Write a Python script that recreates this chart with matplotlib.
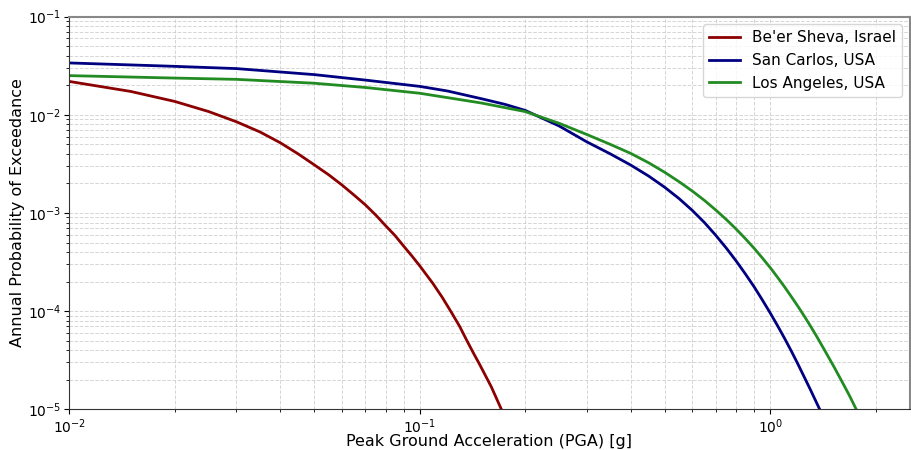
import matplotlib
matplotlib.use('Agg')
import matplotlib.pyplot as plt

# hazard curves (PGA in g, annual probability of exceedance)
pga_beersheva = [0.01, 0.015, 0.02, 0.025, 0.03, 0.035, 0.04, 0.045, 0.05, 0.055,
                 0.06, 0.065, 0.07, 0.075, 0.08, 0.085, 0.09, 0.095, 0.1, 0.109,
                 0.116, 0.123, 0.13, 0.136, 0.142, 0.148, 0.16, 0.171, 0.18]
apoe_beersheva = [0.0219, 0.0173, 0.0137, 0.0108, 0.0085, 0.0067, 0.0052, 0.0040,
                  0.0031, 0.00245, 0.00193, 0.00152, 0.00121, 9.5e-4, 7.4e-4, 5.9e-4,
                  4.6e-4, 3.65e-4, 2.9e-4, 1.92e-4, 1.38e-4, 9.8e-5, 7.0e-5, 5.1e-5,
                  3.8e-5, 2.9e-5, 1.7e-5, 1.0e-5, 6.8e-6]

pga_sancarlos = [0.01, 0.02, 0.03, 0.05, 0.07, 0.1, 0.12, 0.15, 0.175, 0.2, 0.25,
                 0.3, 0.35, 0.4, 0.45, 0.5, 0.55, 0.6, 0.65, 0.7, 0.75, 0.8, 0.85,
                 0.9, 0.95, 1.0, 1.05, 1.1, 1.15, 1.2, 1.3, 1.39, 1.45]
apoe_sancarlos = [0.0338, 0.0312, 0.0296, 0.0257, 0.0226, 0.0195, 0.0175, 0.0146,
                  0.0128, 0.0111, 0.0077, 0.0053, 0.0040, 0.00308, 0.00238, 0.00183,
                  0.0014, 0.00106, 7.96e-4, 5.91e-4, 4.38e-4, 3.24e-4, 2.39e-4,
                  1.77e-4, 1.30e-4, 9.6e-5, 7.1e-5, 5.26e-5, 3.9e-5, 2.89e-5, 1.61e-5,
                  9.7e-6, 6.9e-6]

pga_losangeles = [0.01, 0.02, 0.03, 0.05, 0.07, 0.1, 0.15, 0.2, 0.25, 0.3, 0.35,
                  0.4, 0.45, 0.5, 0.55, 0.6, 0.65, 0.7, 0.75, 0.8, 0.85, 0.9, 0.95,
                  1.0, 1.05, 1.1, 1.15, 1.2, 1.25, 1.3, 1.36, 1.43, 1.52, 1.6, 1.68,
                  1.76, 1.85]
apoe_losangeles = [0.0251, 0.0237, 0.0230, 0.0210, 0.0190, 0.0166, 0.0132, 0.0108,
                   0.0082, 0.0063, 0.0050, 0.00405, 0.00325, 0.0026, 0.00208, 0.00167,
                   0.00134, 0.00107, 8.57e-4, 6.85e-4, 5.47e-4, 4.37e-4, 3.48e-4,
                   2.78e-4, 2.21e-4, 1.76e-4, 1.40e-4, 1.12e-4, 8.95e-5, 7.15e-5,
                   5.47e-5, 4.0e-5, 2.72e-5, 1.94e-5, 1.4e-5, 1.0e-5, 7.0e-6]

fig = plt.figure(figsize=(9.11, 4.5), dpi=100)
ax = fig.add_axes([0.076, 0.0904, 0.9225, 0.8725])

ax.plot(pga_beersheva, apoe_beersheva, color='darkred', lw=2, label="Be'er Sheva, Israel")
ax.plot(pga_sancarlos, apoe_sancarlos, color='navy', lw=2, label='San Carlos, USA')
ax.plot(pga_losangeles, apoe_losangeles, color='forestgreen', lw=2, label='Los Angeles, USA')

ax.set_xscale('log')
ax.set_yscale('log')
ax.set_xlim(0.01, 2.5)
ax.set_ylim(1e-5, 1e-1)

ax.grid(True, which='both', ls='--', lw=0.7, color='#cccccc', alpha=0.8)
ax.set_xlabel('Peak Ground Acceleration (PGA) [g]', fontsize=11.5)
ax.set_ylabel('Annual Probability of Exceedance', fontsize=11.5)
ax.xaxis.set_label_coords(0.5, -0.064)
ax.yaxis.set_label_coords(-0.053, 0.5)
ax.tick_params(labelsize=10, pad=2)

for side in ['top', 'right']:
    ax.spines[side].set_color('#888888')
    ax.spines[side].set_linewidth(1.5)
for side in ['left', 'bottom']:
    ax.spines[side].set_color('#333333')

ax.legend(loc='upper right', fontsize=11)

fig.savefig('out.png', dpi=100)
